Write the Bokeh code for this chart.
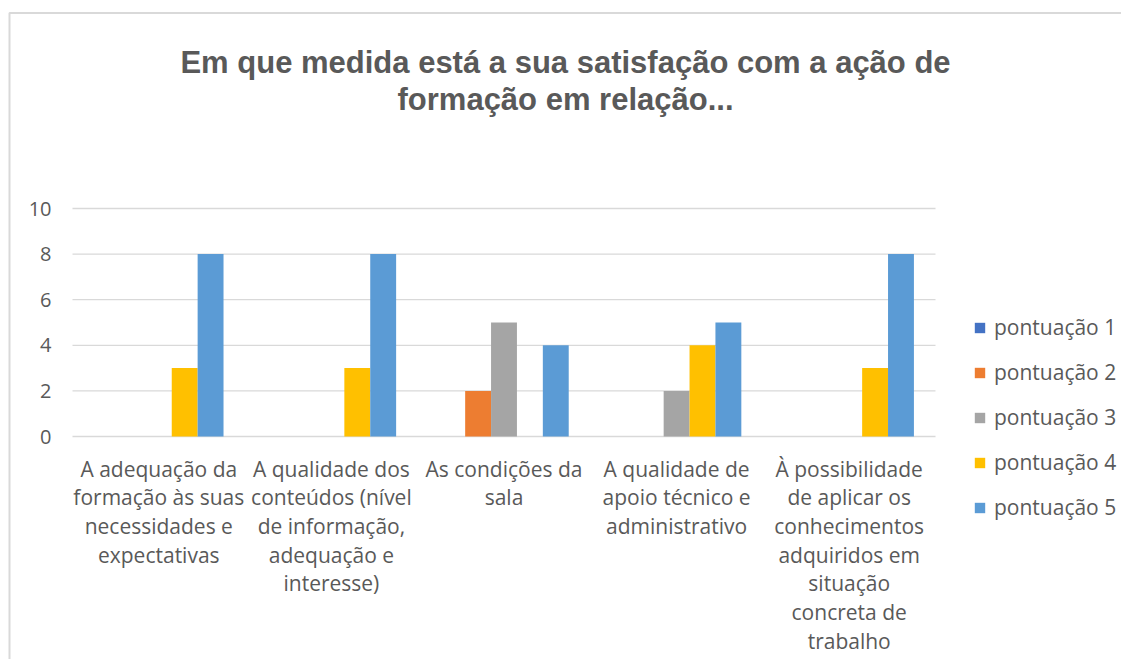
from bokeh.plotting import figure
from bokeh.models import Range1d, Legend, LegendItem, Label, ColumnDataSource
from bokeh.transform import dodge
from bokeh.core.properties import value
from bokeh.embed import file_html
from bokeh.resources import INLINE

categories = [
    "A adequação da\nformação às suas\nnecessidades e\nexpectativas",
    "A qualidade dos\nconteúdos (nível\nde informação,\nadequação e\ninteresse)",
    "As condições da\nsala",
    "A qualidade de\napoio técnico e\nadministrativo",
    "À possibilidade\nde aplicar os\nconhecimentos\nadquiridos em\nsituação\nconcreta de\ntrabalho",
]
series_names = ["pontuação 1", "pontuação 2", "pontuação 3", "pontuação 4", "pontuação 5"]
p1 = [0, 0, 0, 0, 0]
p2 = [0, 0, 2, 0, 0]
p3 = [0, 0, 5, 2, 0]
p4 = [3, 3, 0, 4, 3]
p5 = [8, 8, 4, 5, 8]
colors = ["#4472C4", "#ED7D31", "#A5A5A5", "#FFC000", "#5B9BD5"]
y_ticks = [0, 2, 4, 6, 8, 10]
y_tick_labels = ["0", "2", "4", "6", "8", "10"]
title_lines = ["Em que medida está a sua satisfação com a ação de", "formação em relação..."]

TXT = "#595959"
GRID = "#d9d9d9"
FONT = "Open Sans"

# ---- layout (pixels) ----
W, H = 1121, 659
PX_L, PX_R = 72, 935        # plot area left/right
PY_0, PY_10 = 436, 208      # pixel rows of y=0 and y=10
ncat = len(categories)
ux = (PX_R - PX_L) / ncat
uy = (PY_0 - PY_10) / 10.0

def px2x(px):
    return (px - PX_L) / ux

def py2y(py):
    return (PY_0 - py) / uy

p = figure(width=W, height=H, output_backend="svg", toolbar_location=None,
           x_range=Range1d(px2x(0), px2x(W)), y_range=Range1d(py2y(H), py2y(0)),
           min_border=0, x_axis_location=None, y_axis_location=None)
p.outline_line_color = None
p.grid.visible = False
p.background_fill_color = "white"
p.border_fill_color = "white"

# chart border
p.line(x=[px2x(9), px2x(9), px2x(W)], y=[py2y(H), py2y(12.5), py2y(12.5)],
       line_color="#d9d9d9", line_width=2)

# gridlines
p.segment(x0=[0] * len(y_ticks), x1=[ncat] * len(y_ticks), y0=y_ticks, y1=y_ticks,
          line_color=GRID, line_width=1.3)

# bars
xc = [i + 0.5 for i in range(ncat)]
source = ColumnDataSource(dict(x=xc, p1=p1, p2=p2, p3=p3, p4=p4, p5=p5))
bar_w = 0.15
offsets = [-0.3, -0.15, 0.0, 0.15, 0.3]
keys = ["p1", "p2", "p3", "p4", "p5"]
items = []
for k, off, c, name in zip(keys, offsets, colors, series_names):
    r = p.vbar(x=dodge("x", off), top=k, width=bar_w, source=source,
               fill_color=c, line_color=None)
    items.append(LegendItem(label=name, renderers=[r]))

# y tick labels
p.text(x=[px2x(51)] * len(y_ticks), y=y_ticks, text=y_tick_labels,
       text_align="right", text_baseline="middle", text_font=value(FONT),
       text_font_size="20px", text_color=TXT)

# category labels
p.text(x=xc, y=[py2y(454)] * ncat, text=categories, text_align="center",
       text_baseline="top", text_font=value(FONT), text_font_size="21px",
       text_color=TXT, text_line_height=1.025)

# legend
legend = Legend(items=items, location=(973, H - 521.5), orientation="vertical",
                label_text_font=FONT, label_text_font_size="21px",
                label_text_color=TXT, glyph_width=13, glyph_height=13,
                label_height=29, spacing=16, label_standoff=8, padding=0,
                margin=0, border_line_color=None, background_fill_alpha=0)
p.add_layout(legend, "center")

# title
for t, base in zip(title_lines, [62, 99]):
    p.add_layout(Label(x=px2x(565), y=py2y(base), text=t, text_align="center",
                       text_baseline="alphabetic", text_font="Liberation Sans",
                       text_font_style="bold", text_font_size="31px", text_color=TXT))

open("out.html", "w").write(file_html(p, INLINE))
